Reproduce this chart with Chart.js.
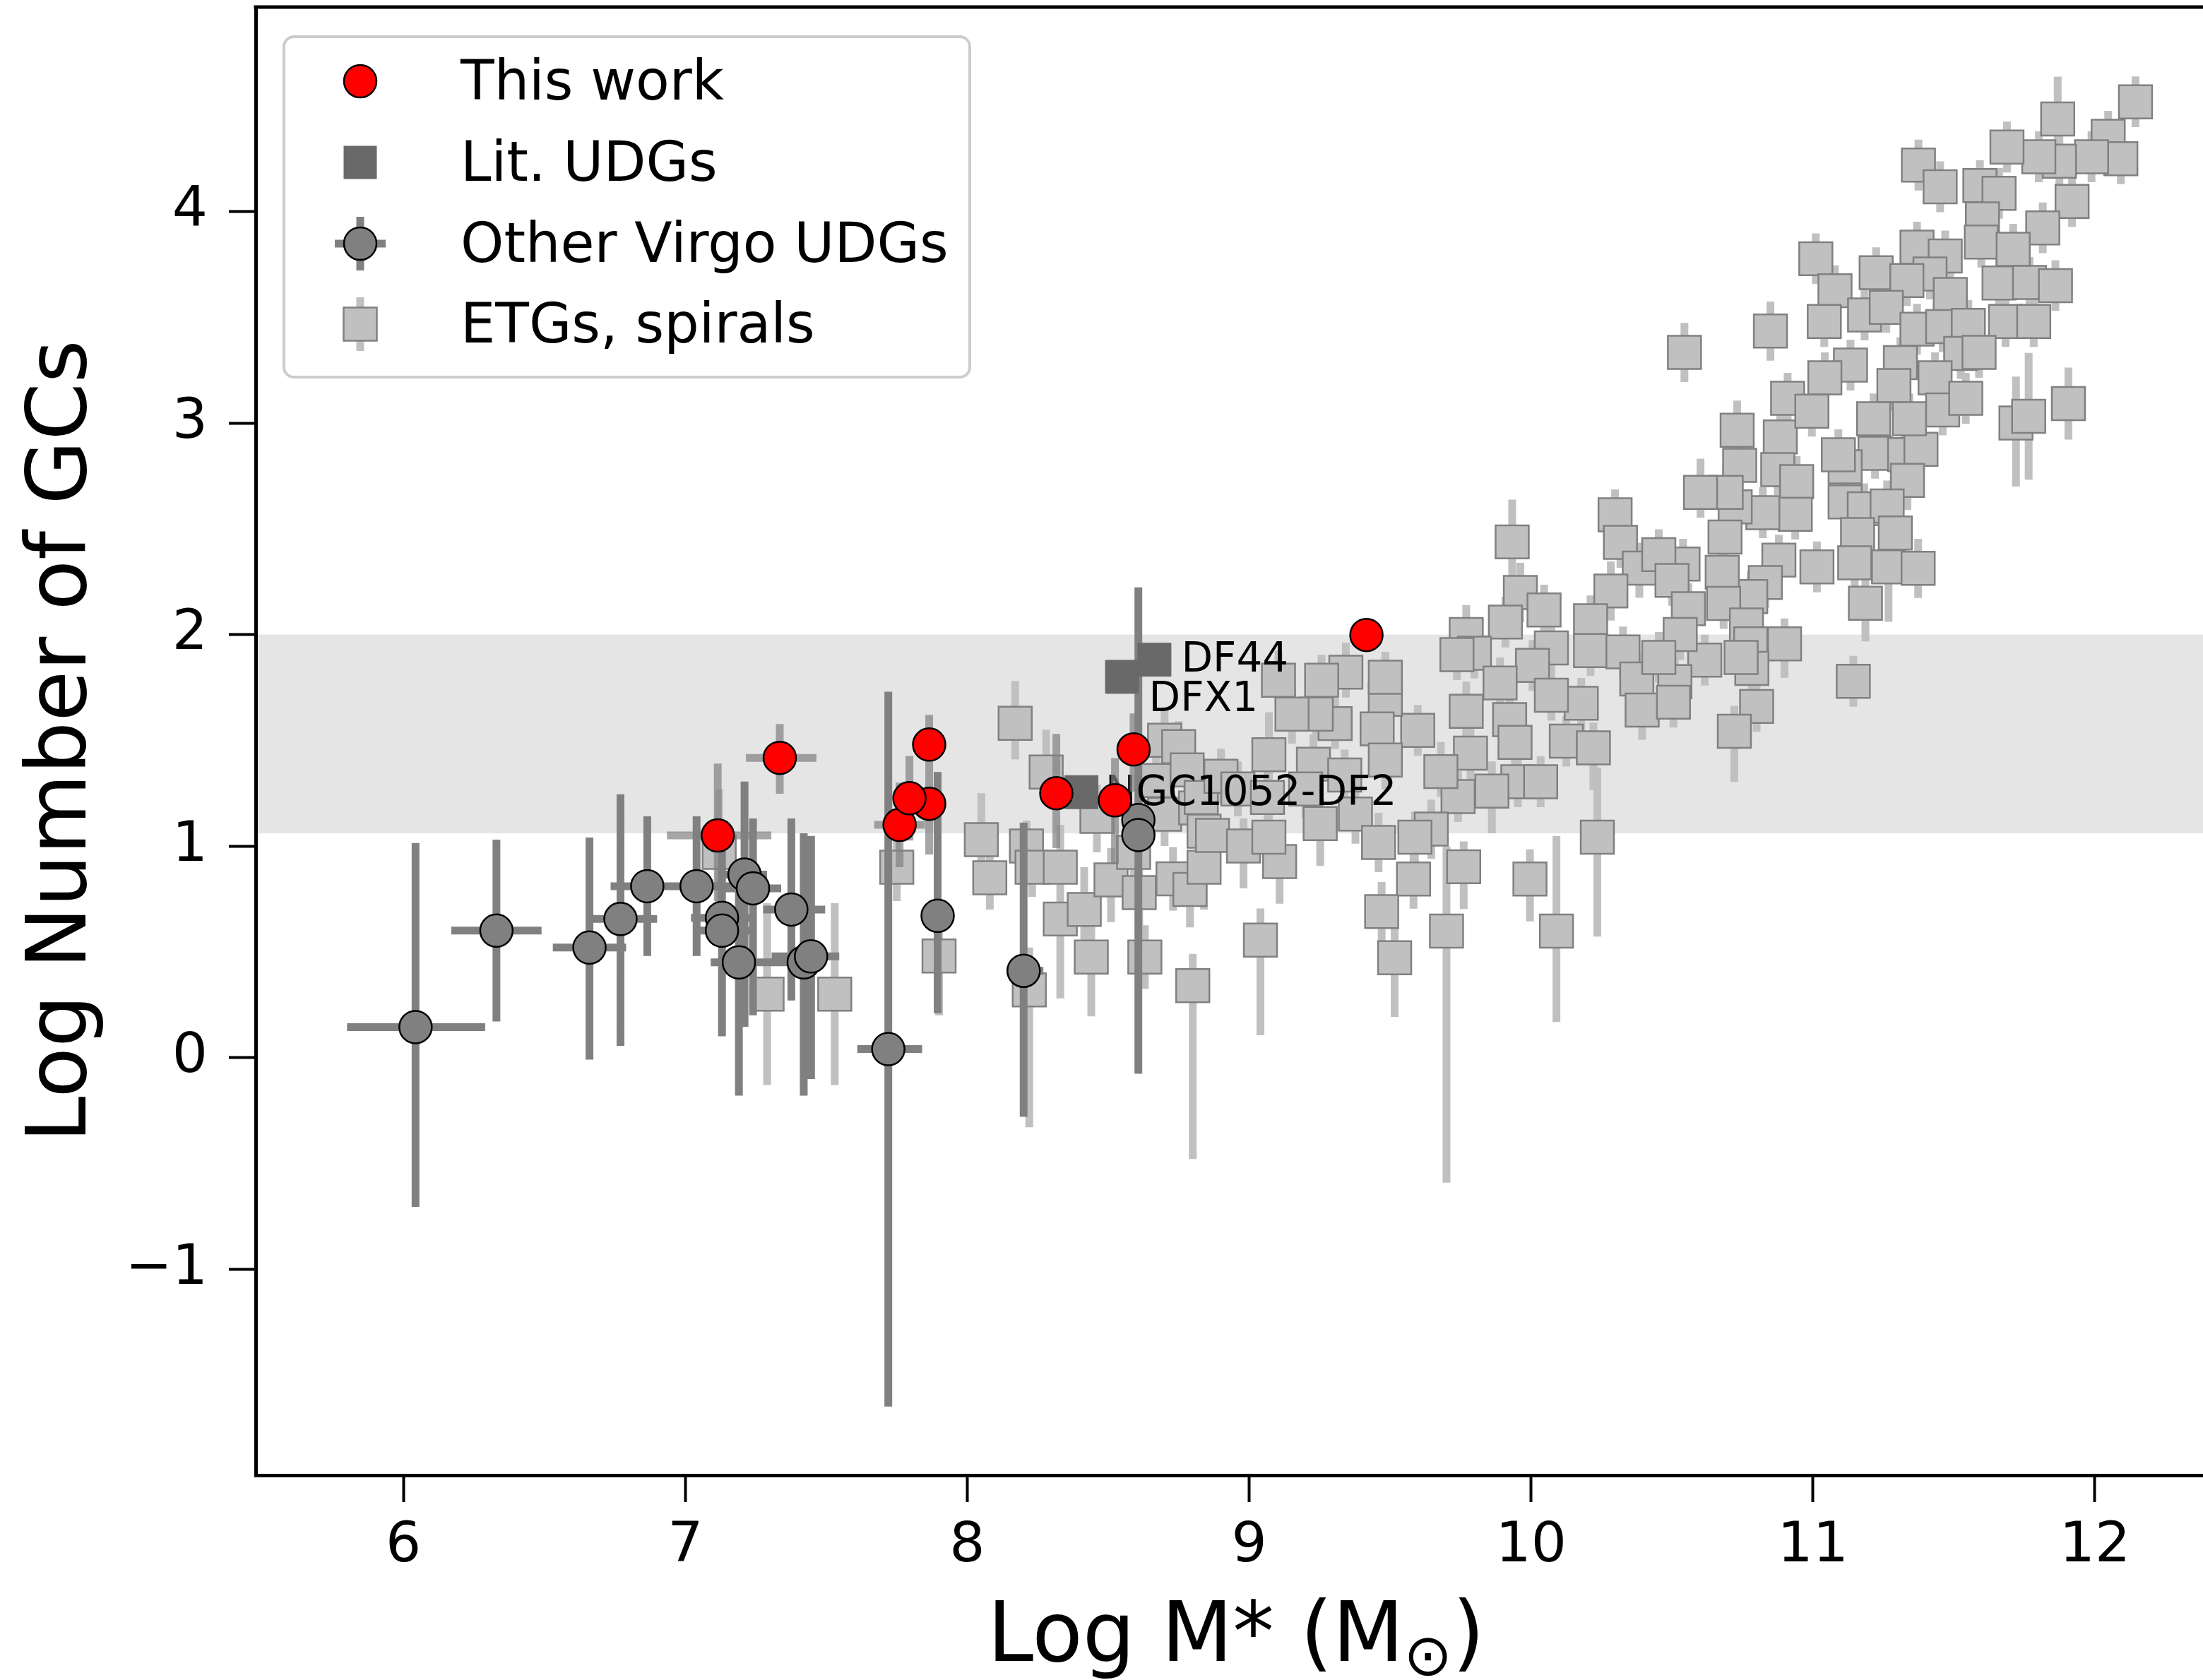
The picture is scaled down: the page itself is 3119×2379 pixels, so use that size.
<!DOCTYPE html>
<html>
<head>
<meta charset="utf-8">
<script src="https://cdn.jsdelivr.net/npm/chart.js@4.4.1/dist/chart.umd.min.js"></script>
<style>
  html, body { margin: 0; padding: 0; background: #fff; overflow: hidden; }
  #wrap { position: relative; width: 3140px; height: 2379px; }
</style>
</head>
<body>
<div id="wrap"><canvas id="chart"></canvas></div>
<script>
const xTicks = [6, 7, 8, 9, 10, 11, 12];
const yTicks = [-1, 0, 1, 2, 3, 4];
const xRange = [5.476, 12.431];
const yRange = [-1.975, 4.967];
const band = [1.06, 2.0];

// [logM, logN, xErrLo, xErrHi, yErrLo, yErrHi]
const thisWork = [
  [7.115, 1.05, 0.18, 0.19, 0.31, 0.34],
  [7.335, 1.417, 0.12, 0.13, 0.17, 0.16],
  [7.76, 1.10, 0.09, 0.09, 0.2, 0.2],
  [7.865, 1.20, 0.03, 0.03, 0.24, 0.2],
  [7.795, 1.226, 0.05, 0.05, 0.2, 0.2],
  [7.865, 1.48, 0.03, 0.03, 0.51, 0.14],
  [8.316, 1.25, 0.03, 0.03, 0.26, 0.28],
  [8.524, 1.216, 0.03, 0.03, 0.3, 0.2],
  [8.59, 1.457, 0.03, 0.03, 0.2, 0.17],
  [9.416, 1.998, 0.02, 0.02, 0.05, 0.05]
];

// [logM, logN]
const litUDGs = [[8.664, 1.881], [8.549, 1.80], [8.405, 1.255]];
const litNames = ['DF44', 'DFX1', 'NGC1052-DF2'];

// [logM, logN, xErrLo, xErrHi, yErrLo, yErrHi]
const virgoUDGs = [
  [6.043, 0.144, 0.243, 0.247, 0.85, 0.87],
  [6.33, 0.60, 0.16, 0.16, 0.43, 0.43],
  [6.66, 0.52, 0.13, 0.13, 0.53, 0.52],
  [6.77, 0.655, 0.11, 0.13, 0.6, 0.59],
  [6.865, 0.81, 0.13, 0.13, 0.33, 0.33],
  [7.04, 0.81, 0.12, 0.12, 0.33, 0.33],
  [7.21, 0.865, 0.08, 0.08, 0.72, 0.44],
  [7.24, 0.80, 0.1, 0.1, 0.6, 0.33],
  [7.13, 0.66, 0.11, 0.12, 0.4, 0.34],
  [7.13, 0.60, 0.1, 0.1, 0.5, 0.4],
  [7.19, 0.45, 0.1, 0.16, 0.63, 0.45],
  [7.376, 0.70, 0.1, 0.12, 0.43, 0.43],
  [7.42, 0.45, 0.07, 0.07, 0.63, 0.61],
  [7.446, 0.478, 0.14, 0.1, 0.58, 0.57],
  [7.72, 0.04, 0.11, 0.12, 1.69, 1.69],
  [7.895, 0.67, 0.02, 0.02, 0.46, 0.68],
  [8.20, 0.41, 0.06, 0.07, 0.69, 0.70],
  [8.607, 1.123, 0.04, 0.04, 1.2, 1.1],
  [8.607, 1.052, 0.04, 0.04, 0.3, 0.3]
];

// [logM, logN, yErrLo, yErrHi]
const etgs = [
  [7.12, 0.97, 0.25, 0.3], [7.29, 0.30, 0.43, 0.43], [7.53, 0.30, 0.43, 0.43],
  [7.75, 0.90, 0.16, 0.15], [7.90, 0.48, 0.28, 0.17], [8.05, 1.03, 0.14, 0.22],
  [8.08, 0.85, 0.15, 0.12], [8.17, 1.58, 0.17, 0.2], [8.21, 1.00, 0.15, 0.12],
  [8.22, 0.32, 0.65, 0.2], [8.23, 0.90, 0.14, 0.12], [8.28, 1.35, 0.15, 0.2],
  [8.33, 0.90, 0.62, 0.2], [8.33, 0.655, 0.15, 0.13], [8.415, 0.70, 0.15, 0.2],
  [8.44, 0.475, 0.28, 0.15], [8.46, 1.14, 0.17, 0.15], [8.51, 0.84, 0.2, 0.15],
  [8.59, 0.97, 0.15, 0.15], [8.61, 0.78, 0.2, 0.15], [8.63, 0.475, 0.15, 0.15],
  [8.67, 1.31, 0.15, 0.15], [8.70, 1.15, 0.15, 0.15], [8.70, 1.50, 0.15, 0.15],
  [8.73, 0.845, 0.15, 0.15], [8.75, 1.47, 0.12, 0.12], [8.78, 1.36, 0.13, 0.13],
  [8.79, 0.795, 0.18, 0.12], [8.80, 0.34, 0.82, 0.15], [8.81, 1.18, 0.13, 0.13],
  [8.84, 0.90, 0.2, 0.13], [8.84, 1.07, 0.13, 0.13], [8.87, 1.05, 0.13, 0.13],
  [8.83, 1.23, 0.13, 0.13], [8.90, 1.33, 0.13, 0.13], [8.96, 1.27, 0.13, 0.13],
  [8.98, 1.00, 0.2, 0.13],
  [9.933, 2.438, 0.16, 0.2], [10.298, 2.566, 0.12, 0.12], [10.317, 2.436, 0.12, 0.12],
  [10.384, 2.314, 0.14, 0.12], [9.962, 2.199, 0.14, 0.14], [10.046, 2.116, 0.12, 0.12],
  [10.283, 2.206, 0.14, 0.14], [9.909, 2.059, 0.12, 0.12], [9.77, 2.0, 0.12, 0.14],
  [9.799, 1.912, 0.12, 0.12], [9.737, 1.905, 0.12, 0.15], [10.072, 1.937, 0.12, 0.12],
  [10.005, 1.854, 0.12, 0.12], [10.211, 2.065, 0.12, 0.12], [10.211, 1.924, 0.12, 0.12],
  [10.326, 1.918, 0.12, 0.12], [10.375, 1.79, 0.12, 0.12], [10.178, 1.675, 0.14, 0.12],
  [10.072, 1.713, 0.12, 0.12], [10.394, 1.643, 0.14, 0.12], [9.89, 1.771, 0.14, 0.12],
  [9.77, 1.637, 0.18, 0.14], [9.924, 1.598, 0.16, 0.12], [9.943, 1.49, 0.12, 0.12],
  [10.125, 1.496, 0.12, 0.12], [10.221, 1.464, 0.2, 0.12], [9.953, 1.304, 0.12, 0.12],
  [10.034, 1.304, 0.12, 0.12], [9.861, 1.26, 0.2, 0.14], [9.785, 1.439, 0.14, 0.12],
  [9.741, 1.234, 0.12, 0.12], [9.68, 1.352, 0.12, 0.14], [9.646, 1.08, 0.14, 0.14],
  [9.598, 1.547, 0.12, 0.12], [9.483, 1.694, 0.14, 0.12], [9.454, 1.554, 0.12, 0.12],
  [9.483, 1.407, 0.14, 0.14], [9.483, 1.798, 0.12, 0.12], [9.343, 1.822, 0.12, 0.14],
  [9.257, 1.784, 0.14, 0.12], [9.305, 1.579, 0.12, 0.12], [9.238, 1.624, 0.12, 0.12],
  [9.152, 1.624, 0.14, 0.12], [9.104, 1.784, 0.12, 0.14], [9.07, 1.432, 0.12, 0.2],
  [9.228, 1.387, 0.12, 0.14], [9.339, 1.336, 0.14, 0.12], [9.252, 1.106, 0.2, 0.12],
  [9.377, 1.151, 0.14, 0.12], [9.459, 1.017, 0.14, 0.14], [9.588, 1.042, 0.12, 0.12],
  [9.108, 0.927, 0.2, 0.12], [9.07, 1.042, 0.16, 0.12], [9.761, 0.902, 0.2, 0.12],
  [9.583, 0.844, 0.14, 0.12], [9.996, 0.844, 0.2, 0.14], [10.235, 1.042, 0.47, 0.33],
  [9.47, 0.69, 0.17, 0.14], [9.2, 1.27, 0.14, 0.12], [9.065, 1.23, 0.12, 0.12],
  [9.04, 0.555, 0.45, 0.15], [9.516, 0.472, 0.28, 0.15], [9.70, 0.598, 1.19, 0.4],
  [10.09, 0.598, 0.43, 0.45],
  [10.544, 3.334, 0.14, 0.14], [10.849, 3.435, 0.14, 0.14], [10.91, 3.117, 0.12, 0.12],
  [10.884, 2.934, 0.12, 0.12], [10.731, 2.966, 0.12, 0.14], [10.74, 2.8, 0.12, 0.12],
  [10.875, 2.78, 0.12, 0.12], [11.22, 2.857, 0.12, 0.12], [11.325, 2.851, 0.12, 0.12],
  [11.383, 2.876, 0.12, 0.12], [11.335, 2.729, 0.14, 0.12], [11.114, 2.793, 0.12, 0.12],
  [11.09, 2.85, 0.12, 0.12], [10.942, 2.723, 0.12, 0.12], [11.114, 2.627, 0.12, 0.12],
  [11.182, 2.595, 0.12, 0.12], [11.263, 2.608, 0.12, 0.12], [11.158, 2.473, 0.12, 0.12],
  [11.292, 2.48, 0.12, 0.12], [11.148, 2.339, 0.12, 0.12], [11.268, 2.32, 0.26, 0.12],
  [11.373, 2.313, 0.14, 0.14], [11.186, 2.148, 0.18, 0.12], [11.143, 1.779, 0.12, 0.12],
  [11.014, 2.32, 0.12, 0.12], [10.937, 2.569, 0.12, 0.12], [10.822, 2.576, 0.12, 0.12],
  [10.724, 2.604, 0.12, 0.12], [10.692, 2.672, 0.12, 0.12], [10.601, 2.672, 0.12, 0.16],
  [10.688, 2.461, 0.12, 0.12], [10.879, 2.352, 0.12, 0.12], [10.831, 2.246, 0.12, 0.12],
  [10.779, 2.18, 0.12, 0.12], [10.678, 2.294, 0.12, 0.12], [10.539, 2.333, 0.12, 0.12],
  [10.453, 2.378, 0.12, 0.12], [10.5, 2.256, 0.12, 0.12], [10.558, 2.122, 0.12, 0.12],
  [10.683, 2.147, 0.12, 0.12], [10.764, 2.045, 0.12, 0.12], [10.779, 1.956, 0.12, 0.12],
  [10.899, 1.956, 0.16, 0.12], [10.616, 1.879, 0.12, 0.12], [10.529, 2.0, 0.12, 0.12],
  [10.51, 1.777, 0.12, 0.12], [10.453, 1.892, 0.12, 0.12], [10.783, 1.84, 0.12, 0.12],
  [10.80, 1.66, 0.12, 0.12], [10.745, 1.892, 0.12, 0.12], [10.721, 1.543, 0.24, 0.12],
  [10.505, 1.68, 0.12, 0.12],
  [11.868, 4.438, 0.14, 0.2], [12.144, 4.519, 0.12, 0.12], [12.047, 4.356, 0.12, 0.12],
  [12.092, 4.25, 0.12, 0.12], [11.988, 4.259, 0.12, 0.12], [11.874, 4.238, 0.12, 0.12],
  [11.801, 4.259, 0.12, 0.12], [11.688, 4.305, 0.12, 0.12], [11.374, 4.22, 0.12, 0.12],
  [11.451, 4.117, 0.12, 0.12], [11.592, 4.123, 0.12, 0.12], [11.66, 4.086, 0.12, 0.12],
  [11.919, 4.048, 0.12, 0.12], [11.815, 3.923, 0.12, 0.12], [11.601, 3.965, 0.12, 0.12],
  [11.597, 3.856, 0.12, 0.12], [11.71, 3.822, 0.12, 0.12], [11.369, 3.832, 0.12, 0.12],
  [11.469, 3.79, 0.12, 0.12], [11.01, 3.777, 0.12, 0.12], [11.224, 3.711, 0.12, 0.12],
  [11.078, 3.626, 0.12, 0.12], [11.415, 3.705, 0.12, 0.12], [11.333, 3.674, 0.12, 0.12],
  [11.487, 3.608, 0.12, 0.12], [11.66, 3.662, 0.12, 0.12], [11.768, 3.665, 0.12, 0.12],
  [11.86, 3.65, 0.12, 0.12], [11.04, 3.48, 0.12, 0.12], [11.183, 3.511, 0.12, 0.12],
  [11.26, 3.547, 0.12, 0.12], [11.369, 3.444, 0.12, 0.12], [11.46, 3.456, 0.12, 0.12],
  [11.551, 3.462, 0.12, 0.12], [11.683, 3.48, 0.12, 0.12], [11.783, 3.48, 0.12, 0.12],
  [11.524, 3.329, 0.12, 0.12], [11.589, 3.334, 0.12, 0.12], [11.31, 3.286, 0.12, 0.12],
  [11.433, 3.214, 0.12, 0.12], [11.133, 3.274, 0.12, 0.12], [11.042, 3.214, 0.12, 0.12],
  [11.287, 3.177, 0.12, 0.12], [11.46, 3.062, 0.12, 0.12], [11.215, 3.02, 0.12, 0.12],
  [11.342, 3.02, 0.12, 0.12], [10.996, 3.056, 0.12, 0.12], [11.72, 3.0, 0.3, 0.22],
  [11.765, 3.032, 0.3, 0.3], [11.906, 3.092, 0.17, 0.17], [11.542, 3.117, 0.12, 0.12]
];

const FONT = '"DejaVu Sans", sans-serif';
Chart.defaults.color = '#000';
Chart.defaults.font.family = FONT;

const toXY = rows => rows.map(r => ({ x: r[0], y: r[1] }));

// error bars drawn through the chart scales
function drawBars(chart, rows, color, withX) {
  const { ctx, chartArea: a, scales: { x, y } } = chart;
  ctx.save();
  ctx.beginPath();
  ctx.rect(a.left, a.top, a.right - a.left, a.bottom - a.top);
  ctx.clip();
  ctx.strokeStyle = color;
  ctx.lineWidth = 11;
  ctx.lineCap = 'butt';
  ctx.beginPath();
  rows.forEach(r => {
    const cx = x.getPixelForValue(r[0]);
    const cy = y.getPixelForValue(r[1]);
    const lo = withX ? r[4] : r[2];
    const hi = withX ? r[5] : r[3];
    ctx.moveTo(cx, y.getPixelForValue(r[1] - lo));
    ctx.lineTo(cx, y.getPixelForValue(r[1] + hi));
    if (withX) {
      ctx.moveTo(x.getPixelForValue(r[0] - r[2]), cy);
      ctx.lineTo(x.getPixelForValue(r[0] + r[3]), cy);
    }
  });
  ctx.stroke();
  ctx.restore();
}

function drawLabels(chart) {
  const { ctx, scales: { x, y } } = chart;
  const offs = [[38, 2], [38, 33], [34, 3]];
  ctx.save();
  ctx.font = '58px ' + FONT;
  ctx.fillStyle = '#000';
  ctx.textBaseline = 'middle';
  litUDGs.forEach((p, i) => {
    ctx.fillText(litNames[i], x.getPixelForValue(p[0]) + offs[i][0], y.getPixelForValue(p[1]) + offs[i][1]);
  });
  ctx.restore();
}

function drawLegend(chart) {
  const ctx = chart.ctx;
  ctx.save();
  ctx.beginPath();
  ctx.roundRect(402, 52, 971, 482, 14);
  ctx.fillStyle = 'rgba(255,255,255,0.8)';
  ctx.fill();
  ctx.lineWidth = 4;
  ctx.strokeStyle = '#cccccc';
  ctx.stroke();

  const mx = 510, tx = 652;
  const rows = [115, 230, 345, 459];
  // This work
  ctx.beginPath();
  ctx.arc(mx, rows[0], 23, 0, Math.PI * 2);
  ctx.fillStyle = '#ff0000';
  ctx.fill();
  ctx.lineWidth = 2.5;
  ctx.strokeStyle = '#000';
  ctx.stroke();
  // Lit. UDGs
  ctx.fillStyle = '#696969';
  ctx.fillRect(mx - 23.5, rows[1] - 23.5, 47, 47);
  // Other Virgo UDGs
  ctx.lineWidth = 11;
  ctx.strokeStyle = '#808080';
  ctx.beginPath();
  ctx.moveTo(mx, rows[2] - 38); ctx.lineTo(mx, rows[2] + 38);
  ctx.moveTo(mx - 36, rows[2]); ctx.lineTo(mx + 36, rows[2]);
  ctx.stroke();
  ctx.beginPath();
  ctx.arc(mx, rows[2], 23, 0, Math.PI * 2);
  ctx.fillStyle = '#808080';
  ctx.fill();
  ctx.lineWidth = 2.5;
  ctx.strokeStyle = '#000';
  ctx.stroke();
  // ETGs, spirals
  ctx.lineWidth = 11;
  ctx.strokeStyle = '#c0c0c0';
  ctx.beginPath();
  ctx.moveTo(mx, rows[3] - 38); ctx.lineTo(mx, rows[3] + 38);
  ctx.stroke();
  ctx.fillStyle = '#c0c0c0';
  ctx.fillRect(mx - 23.5, rows[3] - 23.5, 47, 47);
  ctx.lineWidth = 2.5;
  ctx.strokeStyle = '#808080';
  ctx.strokeRect(mx - 23.5, rows[3] - 23.5, 47, 47);

  ctx.font = '78px ' + FONT;
  ctx.fillStyle = '#000';
  ctx.textBaseline = 'middle';
  ['This work', 'Lit. UDGs', 'Other Virgo UDGs', 'ETGs, spirals'].forEach((t, i) => ctx.fillText(t, tx, rows[i] + 6));
  ctx.restore();
}

function drawXTitle(chart) {
  const { ctx, chartArea: a } = chart;
  const big = '117px ' + FONT, small = '82px ' + FONT;
  const p1 = 'Log M* (M', p2 = '\u2299', p3 = ')';
  ctx.save();
  ctx.fillStyle = '#000';
  ctx.textBaseline = 'alphabetic';
  ctx.font = big;
  const w1 = ctx.measureText(p1).width, w3 = ctx.measureText(p3).width;
  ctx.font = small;
  const w2 = ctx.measureText(p2).width;
  const base = chart.height - 27;
  let sx = (a.left + a.right) / 2 - (w1 + w2 + w3) / 2;
  ctx.font = big; ctx.fillText(p1, sx, base); sx += w1;
  ctx.font = small; ctx.fillText(p2, sx, base + 20); sx += w2;
  ctx.font = big; ctx.fillText(p3, sx, base);
  ctx.restore();
}

const overlay = {
  id: 'overlay',
  beforeDraw(chart) {
    const { ctx, chartArea: a, scales: { y } } = chart;
    const t = y.getPixelForValue(band[1]), b = y.getPixelForValue(band[0]);
    ctx.save();
    ctx.fillStyle = '#e5e5e5';
    ctx.fillRect(a.left, t, a.right - a.left, b - t);
    ctx.restore();
  },
  beforeDatasetDraw(chart, args) {
    if (args.index === 3) drawBars(chart, etgs, '#c0c0c0', false);
    if (args.index === 2) drawBars(chart, virgoUDGs, '#808080', true);
    if (args.index === 0) {
      drawLabels(chart);
      drawBars(chart, thisWork, 'rgba(128,128,128,0.7)', true);
    }
  },
  afterDraw(chart) {
    const { ctx, chartArea: a } = chart;
    ctx.save();
    ctx.strokeStyle = '#000';
    ctx.lineWidth = 5;
    ctx.beginPath();
    ctx.moveTo(a.left - 2.5, a.top);
    ctx.lineTo(a.right, a.top);
    ctx.stroke();
    ctx.restore();
    drawXTitle(chart);
    drawLegend(chart);
  }
};

const tickGrid = { display: true, drawOnChartArea: false, drawTicks: true, tickLength: 38, tickWidth: 4, tickColor: '#000' };

new Chart(document.getElementById('chart'), {
  type: 'scatter',
  data: {
    datasets: [
      { label: 'This work', data: toXY(thisWork), pointStyle: 'circle', pointRadius: 23, pointHoverRadius: 23,
        backgroundColor: '#ff0000', borderColor: '#000', borderWidth: 2.5 },
      { label: 'Lit. UDGs', data: toXY(litUDGs), pointStyle: 'rect', pointRadius: 33.2, pointHoverRadius: 33.2,
        backgroundColor: '#696969', borderColor: '#696969', borderWidth: 1 },
      { label: 'Other Virgo UDGs', data: toXY(virgoUDGs), pointStyle: 'circle', pointRadius: 23, pointHoverRadius: 23,
        backgroundColor: '#808080', borderColor: '#000', borderWidth: 2.5 },
      { label: 'ETGs, spirals', data: toXY(etgs), pointStyle: 'rect', pointRadius: 33.2, pointHoverRadius: 33.2,
        backgroundColor: '#c0c0c0', borderColor: '#808080', borderWidth: 2.5 }
    ]
  },
  options: {
    responsive: true,
    maintainAspectRatio: false,
    animation: false,
    events: [],
    devicePixelRatio: 1,
    layout: { padding: { left: 0, right: 2, top: 10, bottom: 0 }, autoPadding: false },
    plugins: { legend: { display: false }, tooltip: { enabled: false } },
    scales: {
      x: {
        type: 'linear', min: xRange[0], max: xRange[1],
        grid: tickGrid,
        border: { display: true, color: '#000', width: 5 },
        ticks: { font: { size: 79 }, padding: 16, maxRotation: 0 },
        afterBuildTicks: s => { s.ticks = xTicks.map(v => ({ value: v })); },
        afterFit: s => { s.height = 290; s.paddingLeft = 0; s.paddingRight = 0; }
      },
      y: {
        type: 'linear', min: yRange[0], max: yRange[1],
        grid: tickGrid,
        border: { display: true, color: '#000', width: 5 },
        ticks: { font: { size: 79 }, padding: 30,
          callback: v => (v < 0 ? '\u2212' + Math.abs(v) : String(v)) },
        title: { display: true, text: 'Log Number of GCs', font: { size: 117 }, padding: { top: 20, bottom: 0 } },
        afterBuildTicks: s => { s.ticks = yTicks.map(v => ({ value: v })); },
        afterFit: s => { s.width = 362; s.paddingTop = 0; s.paddingBottom = 0; }
      }
    }
  },
  plugins: [overlay]
});
</script>
</body>
</html>
